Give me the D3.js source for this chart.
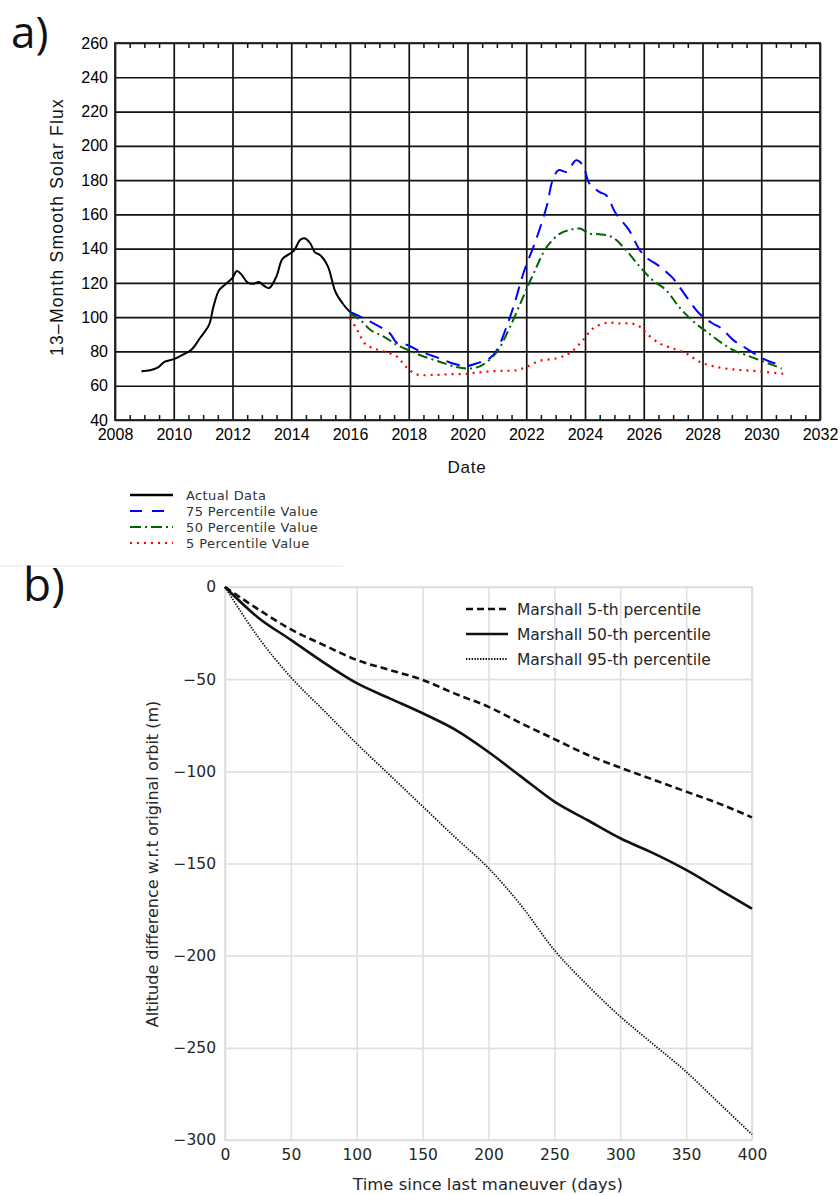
<!DOCTYPE html>
<html>
<head>
<meta charset="utf-8">
<script src="https://cdn.jsdelivr.net/npm/d3@7"></script>
<style>
  body { margin: 0; background: #fff; }
  svg { display: block; }
</style>
</head>
<body>
<svg id="fig" width="840" height="1195"></svg>
<script>
// ---- panel a data: 13-month smoothed solar flux ----
var actualYear = [2008.9, 2009.2, 2009.45, 2009.7, 2010.0, 2010.3, 2010.6, 2010.9, 2011.2, 2011.35, 2011.55, 2011.75, 2012.0, 2012.15, 2012.3, 2012.5, 2012.7, 2012.9, 2013.1, 2013.25, 2013.5, 2013.7, 2013.95, 2014.1, 2014.3, 2014.45, 2014.65, 2014.8, 2015.0, 2015.25, 2015.5, 2015.75, 2016.0];
var actualFlux = [68.5, 69, 70.5, 74, 75.5, 78, 81, 88, 95.5, 106, 116, 119, 123, 127, 125, 120.5, 119.5, 120.5, 118, 117, 124, 134, 137, 139, 145, 146, 143, 138, 136, 129.5, 115, 108, 103];

var p75Year = [2016.0, 2016.35, 2016.8, 2017.35, 2017.6, 2017.95, 2018.4, 2019.05, 2019.5, 2019.97, 2020.3, 2020.75, 2021.0, 2021.33, 2021.6, 2021.9, 2022.35, 2022.7, 2022.9, 2023.1, 2023.37, 2023.7, 2023.93, 2024.15, 2024.5, 2024.73, 2025.05, 2025.5, 2025.87, 2026.15, 2026.43, 2026.76, 2027.0, 2027.45, 2027.9, 2028.35, 2028.65, 2029.05, 2029.5, 2029.95, 2030.3, 2030.7];
var p75Flux = [103, 100.3, 96.4, 90.6, 85, 83.8, 80, 76, 73, 71.5, 73, 76, 80.7, 94.4, 108, 125.5, 146, 165, 180, 185.8, 184.8, 191.6, 188.7, 178, 173, 171, 160.5, 150.8, 139, 134, 131, 126.5, 122.6, 112, 102, 96.3, 93.4, 86.6, 81.7, 76.8, 74, 72];

var p50Year = [2016.0, 2016.35, 2016.7, 2017.15, 2017.6, 2018.1, 2018.4, 2019.05, 2019.6, 2020.08, 2020.5, 2021.0, 2021.45, 2021.9, 2022.25, 2022.7, 2023.15, 2023.5, 2023.83, 2024.15, 2024.5, 2024.95, 2025.4, 2025.87, 2026.3, 2026.76, 2027.2, 2027.7, 2028.15, 2028.6, 2029.05, 2029.5, 2029.95, 2030.4, 2030.7];
var p50Flux = [102, 98.4, 92.5, 88.6, 83.8, 80, 77.8, 74, 71, 70, 72, 79.8, 94.4, 112, 125.5, 141, 148.8, 151, 151.7, 148.8, 148.4, 146.5, 139, 129.4, 121.6, 115.8, 106, 97.3, 91.4, 85.6, 80.7, 77.8, 74.9, 72, 70];

var p5Year = [2016.0, 2016.25, 2016.5, 2016.8, 2017.15, 2017.6, 2017.8, 2018.0, 2018.3, 2018.85, 2019.4, 2020.0, 2020.5, 2021.1, 2021.65, 2022.0, 2022.45, 2023.0, 2023.35, 2023.6, 2023.93, 2024.27, 2024.73, 2025.2, 2025.6, 2025.87, 2026.1, 2026.55, 2027.0, 2027.45, 2027.9, 2028.35, 2029.05, 2029.7, 2030.17, 2030.75];
var p5Flux = [99.3, 92.5, 84.7, 81.8, 80, 77, 73.2, 69.4, 66.5, 66.3, 66.7, 67, 68, 68.7, 69, 71, 74.5, 75.9, 77.8, 80.7, 86.6, 93.4, 96.7, 96.3, 96.3, 94.4, 90.5, 84.6, 81.7, 78.8, 74, 71.4, 69.5, 68.7, 68, 67];

var yearTicks = [2008, 2010, 2012, 2014, 2016, 2018, 2020, 2022, 2024, 2026, 2028, 2030, 2032];
var fluxTicks = [40, 60, 80, 100, 120, 140, 160, 180, 200, 220, 240, 260];

var legendA = ["Actual Data", "75 Percentile Value", "50 Percentile Value", "5 Percentile Value"];

// ---- panel b data: altitude loss since last maneuver ----
var days = [0, 25, 50, 75, 100, 125, 150, 175, 200, 225, 250, 275, 300, 325, 350, 375, 400];
var marshall5 = [0, -12, -23, -31.5, -39.6, -45, -50.4, -58, -65, -74, -82.5, -91, -98, -104.5, -111, -117.5, -125];
var marshall50 = [0, -16.5, -28.7, -41, -52.2, -60.4, -68.5, -77.5, -89.5, -103, -116.4, -126.4, -136.3, -144.4, -153.5, -164, -174.5];
var marshall95 = [0, -27, -49, -67, -85, -102, -119, -136, -152.5, -173, -197, -216, -233, -248, -263, -280, -297];

var dayTicks = [0, 50, 100, 150, 200, 250, 300, 350, 400];
var altTicks = [0, -50, -100, -150, -200, -250, -300];

var legendB = ["Marshall 5-th percentile", "Marshall 50-th percentile", "Marshall 95-th percentile"];

var svg = d3.select("#fig");

// faint seam between the two pasted figures
svg.append("line").attr("x1", 0).attr("x2", 343).attr("y1", 566).attr("y2", 566)
    .attr("stroke", "#eeeeee").attr("stroke-width", 1.5);

// ================= panel a =================
var ax = d3.scaleLinear().domain([2008, 2032]).range([115, 820]);
var ay = d3.scaleLinear().domain([40, 260]).range([420, 43]);

var ga = svg.append("g");

svg.append("text").attr("x", 11).attr("y", 48)
    .style("font-family", "Open Sans, Noto Sans, sans-serif").style("font-size", "44px")
    .attr("fill", "#111").text("a)");

// grid lines via axes
ga.append("g").attr("transform", "translate(0,420)")
    .call(d3.axisBottom(ax).tickValues(yearTicks).tickSize(-(420 - 43)).tickPadding(0).tickFormat(d3.format("d")))
    .call(function (g) {
        g.select(".domain").remove();
        g.selectAll(".tick line").attr("stroke", "#111").attr("stroke-width", 1.7);
        g.selectAll(".tick text").attr("y", 20).attr("dy", null)
            .style("font-family", "Liberation Sans, Arial, sans-serif").style("font-size", "16px").attr("fill", "#000");
    });

ga.append("g").attr("transform", "translate(115,0)")
    .call(d3.axisLeft(ay).tickValues(fluxTicks).tickSize(-(820 - 115)).tickPadding(7))
    .call(function (g) {
        g.select(".domain").remove();
        g.selectAll(".tick line").attr("stroke", "#111").attr("stroke-width", 1.7);
        g.selectAll(".tick text")
            .style("font-family", "Liberation Sans, Arial, sans-serif").style("font-size", "16px").attr("fill", "#000");
    });

// minor ticks on top and bottom
var minor = d3.range(2008, 2032.001, 0.5).filter(function (d) { return d % 2 !== 0; });
ga.append("g").attr("transform", "translate(0,420)")
    .call(d3.axisBottom(ax).tickValues(minor).tickSize(-5).tickFormat(""))
    .call(function (g) { g.select(".domain").remove(); g.selectAll("line").attr("stroke", "#111").attr("stroke-width", 1.5); });
ga.append("g").attr("transform", "translate(0,43)")
    .call(d3.axisTop(ax).tickValues(minor).tickSize(-5).tickFormat(""))
    .call(function (g) { g.select(".domain").remove(); g.selectAll("line").attr("stroke", "#111").attr("stroke-width", 1.5); });

ga.append("rect").attr("x", 115).attr("y", 43).attr("width", 705).attr("height", 377)
    .attr("fill", "none").attr("stroke", "#222").attr("stroke-width", 1.8);

ga.append("text").attr("transform", "translate(63,227)rotate(-90)").attr("text-anchor", "middle")
    .style("font-family", "Liberation Sans, Arial, sans-serif").style("font-size", "17.5px").attr("fill", "#111")
    .attr("letter-spacing", "1.2px")
    .text("13–Month Smooth Solar Flux");

ga.append("text").attr("x", 467).attr("y", 473).attr("text-anchor", "middle")
    .style("font-family", "Liberation Sans, Arial, sans-serif").style("font-size", "17px").attr("fill", "#111")
    .attr("letter-spacing", "0.8px")
    .text("Date");

var lineA = d3.line().x(function (d) { return ax(d[0]); }).y(function (d) { return ay(d[1]); })
    .curve(d3.curveCatmullRom.alpha(0.5));

var seriesA = [
    { year: actualYear, flux: actualFlux, color: "#000000", dash: null, w: 2 },
    { year: p75Year, flux: p75Flux, color: "#0000ff", dash: "14,8", w: 2 },
    { year: p50Year, flux: p50Flux, color: "#006400", dash: "10,4,2,4", w: 2 },
    { year: p5Year, flux: p5Flux, color: "#ff0000", dash: "2,5", w: 2.2 }
];

seriesA.forEach(function (s) {
    ga.append("path").datum(d3.zip(s.year, s.flux))
        .attr("d", lineA).attr("fill", "none")
        .attr("stroke", s.color).attr("stroke-width", s.w)
        .attr("stroke-dasharray", s.dash);
});

// legend a
var la = svg.append("g");
seriesA.forEach(function (s, i) {
    var yy = 495 + i * 16;
    la.append("line").attr("x1", 130).attr("x2", 173).attr("y1", yy).attr("y2", yy)
        .attr("stroke", s.color).attr("stroke-width", i === 0 ? 2.5 : 2)
        .attr("stroke-dasharray", i === 1 ? "12,10" : i === 2 ? "11,4,2,4" : i === 3 ? "2,5" : null);
    la.append("text").attr("x", 186).attr("y", yy + 5)
        .style("font-family", "DejaVu Sans, sans-serif").style("font-size", "13px")
        .attr("fill", "#333").attr("letter-spacing", "0.4px").text(legendA[i]);
});

// ================= panel b =================
var bx = d3.scaleLinear().domain([0, 400]).range([225, 752]);
var by = d3.scaleLinear().domain([-300, 0]).range([1140, 587]);

var gb = svg.append("g");

svg.append("text").attr("x", 23).attr("y", 601)
    .style("font-family", "Open Sans, Noto Sans, sans-serif").style("font-size", "46px")
    .attr("fill", "#111").text("b)");

gb.append("g").attr("transform", "translate(0,1140)")
    .call(d3.axisBottom(bx).tickValues(dayTicks).tickSize(-(1140 - 587)).tickPadding(9))
    .call(function (g) {
        g.select(".domain").remove();
        g.selectAll(".tick line").attr("stroke", "#e0e0e0").attr("stroke-width", 1.6);
        g.selectAll(".tick text")
            .style("font-family", "DejaVu Sans, sans-serif").style("font-size", "15.5px").attr("fill", "#262626");
    });

gb.append("g").attr("transform", "translate(225,0)")
    .call(d3.axisLeft(by).tickValues(altTicks).tickSize(-(752 - 225)).tickPadding(9)
        .tickFormat(function (d) { return d < 0 ? "\u2212" + Math.abs(d) : d; }))
    .call(function (g) {
        g.select(".domain").remove();
        g.selectAll(".tick line").attr("stroke", "#e0e0e0").attr("stroke-width", 1.6);
        g.selectAll(".tick text")
            .style("font-family", "DejaVu Sans, sans-serif").style("font-size", "15.5px").attr("fill", "#262626");
    });

gb.append("rect").attr("x", 225).attr("y", 587).attr("width", 527).attr("height", 553)
    .attr("fill", "none").attr("stroke", "#dddddd").attr("stroke-width", 1.6);

gb.append("text").attr("transform", "translate(158,864)rotate(-90)").attr("text-anchor", "middle")
    .style("font-family", "DejaVu Sans, sans-serif").style("font-size", "16px").attr("fill", "#262626")
    .text("Altitude difference w.r.t original orbit (m)");

gb.append("text").attr("x", 488).attr("y", 1190).attr("text-anchor", "middle")
    .style("font-family", "DejaVu Sans, sans-serif").style("font-size", "16.5px").attr("fill", "#262626")
    .text("Time since last maneuver (days)");

var lineB = d3.line().x(function (d) { return bx(d[0]); }).y(function (d) { return by(d[1]); })
    .curve(d3.curveMonotoneX);

var seriesB = [
    { vals: marshall5, dash: "7,4", w: 2.6 },
    { vals: marshall50, dash: null, w: 2.6 },
    { vals: marshall95, dash: "1.4,1.4", w: 1.8 }
];

seriesB.forEach(function (s) {
    gb.append("path").datum(d3.zip(days, s.vals))
        .attr("d", lineB).attr("fill", "none")
        .attr("stroke", "#111").attr("stroke-width", s.w)
        .attr("stroke-dasharray", s.dash);
});

// legend b
seriesB.forEach(function (s, i) {
    var yy = 609 + i * 25;
    gb.append("line").attr("x1", 466).attr("x2", 508).attr("y1", yy).attr("y2", yy)
        .attr("stroke", "#111").attr("stroke-width", s.w).attr("stroke-dasharray", s.dash);
    gb.append("text").attr("x", 517).attr("y", yy + 5.5)
        .style("font-family", "DejaVu Sans, sans-serif").style("font-size", "15.5px").attr("fill", "#262626")
        .text(legendB[i]);
});
</script>
</body>
</html>
